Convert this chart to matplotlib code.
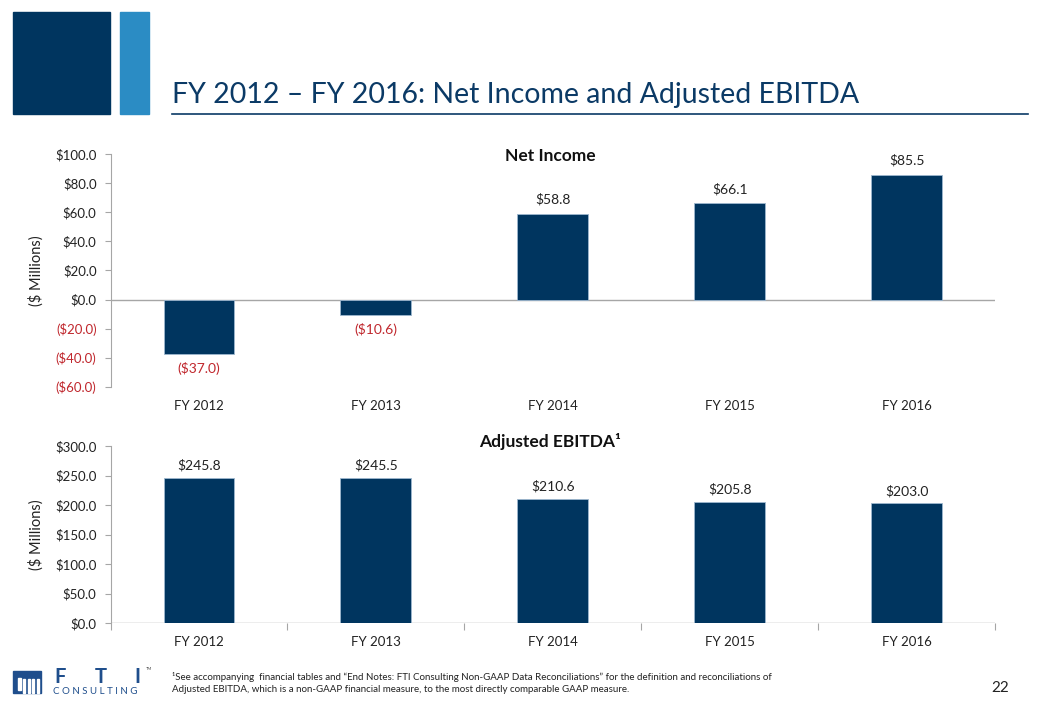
import matplotlib.pyplot as plt
import matplotlib.patches as patches
import numpy as np

plt.rcParams['font.family'] = ['Lato', 'DejaVu Sans']

years = ['FY 2012', 'FY 2013', 'FY 2014', 'FY 2015', 'FY 2016']
net_income = [-37.0, -10.6, 58.8, 66.1, 85.5]
adj_ebitda = [245.8, 245.5, 210.6, 205.8, 203.0]
ni_ticks = [-60, -40, -20, 0, 20, 40, 60, 80, 100]
eb_ticks = [0, 50, 100, 150, 200, 250, 300]

navy = '#00355F'
light_blue = '#2B8CC4'
red = '#C0272D'
grey = '#A6A6A6'

W, H = 1040, 720
fig = plt.figure(figsize=(10.4, 7.2), dpi=100)

def box(x0, y0, x1, y1):
    # pixel box (top-left origin) -> figure fraction rect
    return [x0 / W, 1 - y1 / H, (x1 - x0) / W, (y1 - y0) / H]

# header blocks
fig.patches.append(patches.Rectangle((13 / W, 1 - 114 / H), 97 / W, 102 / H,
                                     transform=fig.transFigure, color=navy))
fig.patches.append(patches.Rectangle((120 / W, 1 - 114 / H), 29 / W, 102 / H,
                                     transform=fig.transFigure, color=light_blue))
fig.text(172 / W, 1 - 95 / H, 'FY 2012 \u2013 FY 2016: Net Income and Adjusted EBITDA',
         fontsize=20.5, color='#0B3A66', va='center', ha='left')
fig.add_artist(plt.Line2D([172 / W, 1028 / W], [1 - 114 / H, 1 - 114 / H],
                          transform=fig.transFigure, color='#0B3A66', lw=1.2))

def money(v):
    if v < 0:
        return '(${:.1f})'.format(-v)
    return '${:.1f}'.format(v)

def draw_panel(rect, vals, ticks, title, title_y):
    ax = fig.add_axes(rect)
    x = np.arange(len(vals))
    ax.bar(x, vals, width=0.4, color=navy, edgecolor='#9DB7CF', linewidth=0.6, zorder=3)
    ax.set_xlim(-0.5, len(vals) - 0.5)
    ax.set_ylim(ticks[0], ticks[-1])
    ax.set_yticks(ticks)
    ax.set_yticklabels([money(t) for t in ticks], fontsize=9.5)
    for lab, t in zip(ax.get_yticklabels(), ticks):
        lab.set_color(red if t < 0 else '#222222')
    ax.set_xticks(x)
    ax.set_xticklabels(years, fontsize=9.5, color='#222222')
    ax.tick_params(axis='x', length=0, pad=9)
    ax.tick_params(axis='y', length=4, color=grey, width=0.8, pad=6)
    for s in ['top', 'right', 'bottom']:
        ax.spines[s].set_visible(False)
    ax.spines['left'].set_color(grey)
    ax.axhline(0, color=grey, lw=1, zorder=2)
    ax.set_xticks(np.arange(len(vals) + 1) - 0.5, minor=True)
    ax.tick_params(axis='x', which='minor', length=0)
    span = ticks[-1] - ticks[0]
    for xi, v in zip(x, vals):
        if v < 0:
            ax.text(xi, v - span * 0.035, money(v), ha='center', va='top',
                    fontsize=10, color=red)
        else:
            ax.text(xi, v + span * 0.035, money(v), ha='center', va='bottom',
                    fontsize=10, color='#222222')
    ax.set_ylabel('($ Millions)', fontsize=10.5, color='#222222')
    ax.yaxis.set_label_coords(-0.076, 0.5)
    fig.text(550 / W, 1 - title_y / H, title, fontsize=12.5, fontweight='bold',
             ha='center', va='center', color='#111111')
    return ax

ax1 = draw_panel(box(110.5, 154, 995, 387), net_income, ni_ticks, 'Net Income', 156)
ax2 = draw_panel(box(110.5, 446, 995, 623), adj_ebitda, eb_ticks, 'Adjusted EBITDA\u00b9', 441)
ax2.tick_params(axis='x', which='minor', length=5, color=grey, width=0.8)

# footnote and page number
fig.text(172 / W, 1 - 677 / H,
         '\u00b9See accompanying  financial tables and \u201cEnd Notes: FTI Consulting Non-GAAP Data Reconciliations\u201d for the definition and reconciliations of',
         fontsize=7.0, color='#222222', va='center')
fig.text(172 / W, 1 - 690 / H,
         'Adjusted EBITDA, which is a non-GAAP financial measure, to the most directly comparable GAAP measure.',
         fontsize=7.0, color='#222222', va='center')
fig.text(1000 / W, 1 - 688 / H, '22', fontsize=11, color='#222222', ha='center', va='center')

# logo
logo_col = '#1F4E8C'
fig.patches.append(patches.Rectangle((13 / W, 1 - 693 / H), 28 / W, 22 / H,
                                     transform=fig.transFigure, color=logo_col))
for i in range(4):
    fig.patches.append(patches.Rectangle(((23 + i * 4.5) / W, 1 - 693 / H), 2 / W, 14 / H,
                                         transform=fig.transFigure, color='white'))
fig.patches.append(patches.Rectangle((18 / W, 1 - 690 / H), 3 / W, 12 / H,
                                     transform=fig.transFigure, color='white'))
for letter, lx in zip(['F', 'T', 'I'], [54, 95, 134]):
    fig.text(lx / W, 1 - 677 / H, letter, fontsize=14.5, fontweight='bold',
             color=logo_col, va='center', ha='left')
fig.text(53 / W, 1 - 692 / H, 'C O N S U L T I N G', fontsize=7.0,
         color=logo_col, va='center', ha='left')
fig.text(146 / W, 1 - 669 / H, 'TM', fontsize=3, color='#444444', va='center')

fig.savefig('out.png', dpi=100)
